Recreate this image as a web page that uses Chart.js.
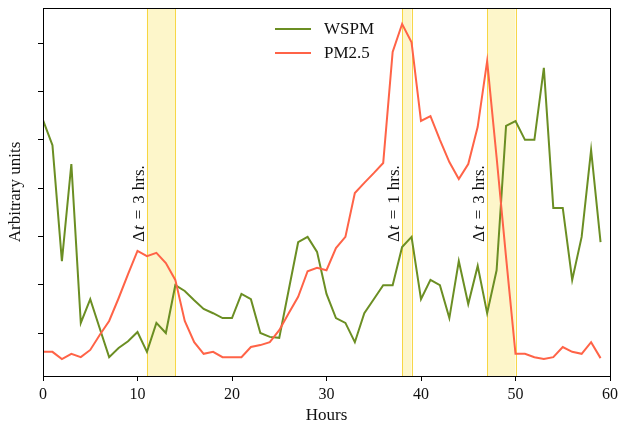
<!DOCTYPE html>
<html><head><meta charset="utf-8">
<script src="https://cdn.jsdelivr.net/npm/chart.js@4"></script>
<style>html,body{margin:0;padding:0;background:#fff}</style>
</head><body>
<canvas id="c" width="619" height="423"></canvas>
<script>
const hours = Array.from({length: 60}, (_, i) => i);
const wspm = [5.41,4.89,2.49,4.50,1.21,1.70,1.10,0.50,0.69,0.83,
              1.02,0.61,1.21,1.00,1.99,1.87,1.68,1.50,1.41,1.31,
              1.31,1.81,1.70,1.00,0.92,0.90,1.89,2.88,2.99,2.68,
              1.81,1.31,1.21,0.81,1.41,1.70,1.99,1.99,2.78,2.99,
              1.70,2.10,1.99,1.31,2.49,1.60,2.39,1.41,2.30,5.29,
              5.39,5.00,5.00,6.49,3.59,3.59,2.10,2.99,4.79,2.88];
const pm25 = [0.61,0.61,0.46,0.57,0.50,0.65,0.96,1.25,1.72,2.22,
              2.70,2.59,2.66,2.45,2.10,1.25,0.81,0.57,0.61,0.50,
              0.50,0.50,0.71,0.75,0.81,1.06,1.41,1.75,2.28,2.35,
              2.30,2.76,2.99,3.90,4.11,4.31,4.52,6.82,7.40,7.02,
              5.39,5.49,5.00,4.54,4.19,4.50,5.27,6.63,4.64,2.57,
              0.57,0.57,0.50,0.46,0.50,0.71,0.61,0.57,0.81,0.48];
const xTicks = [0,10,20,30,40,50,60];
const yTicks = [1,2,3,4,5,6,7];
const spanStarts = [11,38,47];
const spanEnds = [14,39,50];
const spanDt = ['3','1','3'];
const seriesNames = ['WSPM','PM2.5'];
const seriesColors = ['#6b8e23','#ff6347'];

const FONT = "'Liberation Serif', 'Times New Roman', serif";

const decor = {
  id: 'decor',
  beforeDatasetsDraw(chart) {
    const {ctx, chartArea: a, scales: {x}} = chart;
    ctx.save();
    for (let i = 0; i < spanStarts.length; i++) {
      const x0 = x.getPixelForValue(spanStarts[i]);
      const x1 = x.getPixelForValue(spanEnds[i]);
      ctx.fillStyle = 'rgba(250,226,80,0.30)';
      ctx.fillRect(x0, a.top, x1 - x0, a.bottom - a.top);
      ctx.strokeStyle = 'rgba(246,208,40,0.85)';
      ctx.lineWidth = 1;
      ctx.beginPath();
      ctx.moveTo(Math.round(x0)+0.5, a.top); ctx.lineTo(Math.round(x0)+0.5, a.bottom);
      ctx.moveTo(Math.round(x1)+0.5, a.top); ctx.lineTo(Math.round(x1)+0.5, a.bottom);
      ctx.stroke();
    }
    ctx.restore();
  },
  afterDraw(chart) {
    const {ctx, chartArea: a, scales: {x}} = chart;
    ctx.save();
    ctx.strokeStyle = '#000'; ctx.lineWidth = 1;
    ctx.strokeRect(Math.round(a.left)+0.5, Math.round(a.top)+0.5, Math.round(a.right-a.left), Math.round(a.bottom-a.top));
    ctx.fillStyle = '#111';
    ctx.textBaseline = 'alphabetic';
    ctx.textAlign = 'left';
    for (let i = 0; i < spanStarts.length; i++) {
      const bx = x.getPixelForValue(spanStarts[i]) - 3;
      ctx.save();
      ctx.translate(bx, 242);
      ctx.rotate(-Math.PI/2);
      const parts = [
        ['Δ', 'normal', 1], ['t', 'italic', 6], ['=', 'normal', 6], [spanDt[i], 'normal', 5], ['hrs.', 'normal', 0]
      ];
      let cx = 0;
      for (const [s, st, gap] of parts) {
        ctx.font = st + ' 17px ' + FONT;
        ctx.fillText(s, cx, 0);
        cx += ctx.measureText(s).width + gap;
      }
      ctx.restore();
    }
    ctx.font = '17px ' + FONT;
    ctx.textBaseline = 'middle';
    const rows = [29, 53];
    for (let i = 0; i < 2; i++) {
      ctx.strokeStyle = seriesColors[i]; ctx.lineWidth = 2;
      ctx.beginPath(); ctx.moveTo(275, rows[i]); ctx.lineTo(311, rows[i]); ctx.stroke();
      ctx.fillStyle = '#111';
      ctx.fillText(seriesNames[i], 324, rows[i] + 1);
    }
    ctx.textAlign = 'center';
    ctx.fillText('Hours', (a.left + a.right)/2, 416);
    ctx.save();
    ctx.translate(16, (a.top + a.bottom)/2);
    ctx.rotate(-Math.PI/2);
    ctx.fillText('Arbitrary units', 0, 0);
    ctx.restore();
    ctx.restore();
  }
};

new Chart(document.getElementById('c'), {
  type: 'line',
  data: {
    datasets: [
      {label: seriesNames[0], data: wspm.map((v, i) => ({x: hours[i], y: v})), borderColor: seriesColors[0], borderWidth: 2, pointRadius: 0, tension: 0, order: 1},
      {label: seriesNames[1], data: pm25.map((v, i) => ({x: hours[i], y: v})), borderColor: seriesColors[1], borderWidth: 2, pointRadius: 0, tension: 0, order: 0}
    ]
  },
  options: {
    responsive: false,
    animation: false,
    devicePixelRatio: 1,
    layout: {padding: {top: 8, right: 9, left: 0, bottom: 0}},
    plugins: {legend: {display: false}, tooltip: {enabled: false}},
    scales: {
      x: {
        type: 'linear', min: 0, max: 60,
        afterBuildTicks: s => { s.ticks = xTicks.map(v => ({value: v})); },
        afterFit: s => { s.height = 47; s.paddingLeft = 0; s.paddingRight = 0; },
        ticks: {color: '#111', font: {family: FONT, size: 16}, padding: 4, maxRotation: 0, autoSkip: false},
        grid: {drawOnChartArea: false, drawTicks: true, tickLength: 5, color: '#000'},
        border: {display: true, color: '#000', width: 1}
      },
      y: {
        min: 0.11, max: 7.73,
        afterBuildTicks: s => { s.ticks = yTicks.map(v => ({value: v})); },
        afterFit: s => { s.width = 43; s.paddingTop = 0; s.paddingBottom = 0; },
        ticks: {display: false},
        grid: {drawOnChartArea: false, drawTicks: true, tickLength: 5, color: '#000'},
        border: {display: true, color: '#000', width: 1}
      }
    }
  },
  plugins: [decor]
});
</script>
</body></html>
